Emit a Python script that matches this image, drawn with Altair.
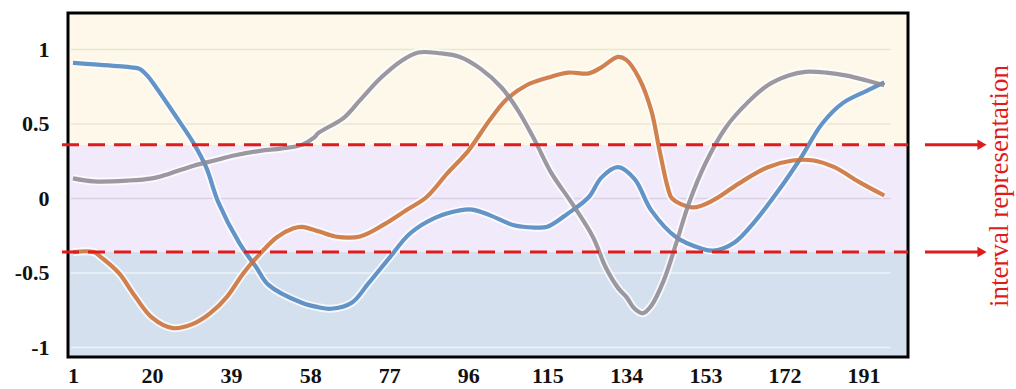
import altair as alt
import pandas as pd

# Three normalised signals sampled along the sequence index
blue_x = [1, 6, 15, 17, 19, 21, 26, 30, 33, 36, 41, 45, 48, 56, 60, 63, 68, 72, 77, 82,
          88, 94, 97, 101, 107, 112, 115, 120, 125, 128, 132, 136, 140, 146, 152, 155,
          160, 165, 171, 176, 181, 186, 192, 196]
blue_y = [0.91, 0.90, 0.88, 0.87, 0.82, 0.745, 0.54, 0.37, 0.21, -0.03, -0.30, -0.46,
          -0.58, -0.70, -0.73, -0.74, -0.70, -0.57, -0.40, -0.235, -0.13, -0.08, -0.075,
          -0.11, -0.18, -0.195, -0.19, -0.10, 0.01, 0.14, 0.21, 0.13, -0.08, -0.26,
          -0.335, -0.35, -0.295, -0.15, 0.07, 0.275, 0.50, 0.64, 0.725, 0.78]

orange_x = [1, 6, 8, 12, 16, 20, 25, 30, 34, 38, 42, 46, 50, 54, 56, 60, 64, 70, 76, 81,
            86, 91, 96, 101, 105, 110, 115, 120, 125, 128, 132, 134, 137, 140, 142, 144,
            145, 150, 155, 161, 168, 174, 179, 184, 190, 196]
orange_y = [-0.36, -0.36, -0.40, -0.50, -0.66, -0.80, -0.87, -0.84, -0.77, -0.66, -0.50,
            -0.37, -0.26, -0.20, -0.19, -0.22, -0.255, -0.255, -0.17, -0.08, 0.01, 0.17,
            0.32, 0.52, 0.66, 0.76, 0.81, 0.845, 0.84, 0.88, 0.95, 0.93, 0.81, 0.59, 0.32,
            0.07, 0.0, -0.06, -0.01, 0.10, 0.21, 0.255, 0.255, 0.21, 0.11, 0.02]

gray_x = [1, 6, 14, 20, 24, 30, 35, 40, 46, 51, 56, 59, 60, 66, 70, 75, 80, 84, 89, 94,
          99, 104, 108, 112, 116, 121, 126, 129, 132, 134, 136, 138, 140, 143, 146, 149,
          153, 158, 163, 168, 173, 177, 182, 187, 192, 196]
gray_y = [0.135, 0.115, 0.12, 0.135, 0.165, 0.22, 0.255, 0.29, 0.32, 0.335, 0.36, 0.41,
          0.44, 0.54, 0.66, 0.81, 0.925, 0.98, 0.975, 0.95, 0.87, 0.745, 0.59, 0.39, 0.17,
          -0.035, -0.26, -0.46, -0.60, -0.66, -0.74, -0.77, -0.72, -0.55, -0.30, -0.035,
          0.235, 0.48, 0.64, 0.76, 0.825, 0.85, 0.845, 0.825, 0.79, 0.76]

series_names = ["blue", "orange", "gray"]
series_colors = ["#4d85bf", "#cb6f36", "#8e8a94"]

# Interval thresholds and background zones
upper_limit = 0.36
lower_limit = -0.36
x_ticks = [1, 20, 39, 58, 77, 96, 115, 134, 153, 172, 191]
y_ticks = [-1, -0.5, 0, 0.5, 1]
grid_colors = ["#eef3f9", "#eef3f9", "#d9d1e3", "#ece5d3", "#ece5d3"]
x_domain = [-0.2, 201.7]
y_domain = [-1.064, 1.245]
zone_colors = ["#d4e0ee", "#f1eafa", "#fdf8ea"]

SERIF = "Times New Roman, Liberation Serif, serif"

rows = []
for name, xs, ys in [("blue", blue_x, blue_y), ("orange", orange_x, orange_y),
                     ("gray", gray_x, gray_y)]:
    for xv, yv in zip(xs, ys):
        rows.append({"series": name, "idx": xv, "value": yv})
lines_df = pd.DataFrame(rows)

zones_df = pd.DataFrame({
    "x0": [x_domain[0]] * 3,
    "x1": [x_domain[1]] * 3,
    "y0": [y_domain[0], lower_limit, upper_limit],
    "y1": [lower_limit, upper_limit, y_domain[1]],
    "fill": zone_colors,
})
grid_df = pd.DataFrame({"v": y_ticks, "c": grid_colors, "x0": 0.5, "x1": 197.5})
limits_df = pd.DataFrame({"v": [upper_limit, lower_limit]})

xs = alt.Scale(domain=x_domain, nice=False, zero=False)
ys = alt.Scale(domain=y_domain, nice=False, zero=False)

x_axis = alt.Axis(values=x_ticks, labelExpr="'' + datum.value", title=None,
                  domain=False, ticks=False, grid=False, labelFont=SERIF,
                  labelFontWeight="bold", labelFontSize=22, labelColor="#111",
                  labelPadding=8)
y_axis = alt.Axis(values=y_ticks, labelExpr="'' + datum.value", title=None,
                  domain=False, ticks=False, grid=False, labelFont=SERIF,
                  labelFontWeight="bold", labelFontSize=22, labelColor="#111",
                  labelPadding=19)

zones = alt.Chart(zones_df).mark_rect().encode(
    x=alt.X("x0:Q", scale=xs, axis=x_axis),
    x2="x1:Q",
    y=alt.Y("y0:Q", scale=ys, axis=y_axis),
    y2="y1:Q",
    fill=alt.Fill("fill:N", scale=None),
)

grid = alt.Chart(grid_df).mark_rule(strokeWidth=1.5).encode(
    x=alt.X("x0:Q", scale=xs),
    x2="x1:Q",
    y=alt.Y("v:Q", scale=ys),
    color=alt.Color("c:N", scale=None),
)

color_scale = alt.Scale(domain=series_names, range=series_colors)

halo = alt.Chart(lines_df).mark_line(
    interpolate="catmull-rom", strokeWidth=8, color="white", opacity=0.75
).encode(
    x=alt.X("idx:Q", scale=xs),
    y=alt.Y("value:Q", scale=ys),
    detail="series:N",
)

lines = alt.Chart(lines_df).mark_line(
    interpolate="catmull-rom", strokeWidth=4.2, opacity=0.88
).encode(
    x=alt.X("idx:Q", scale=xs),
    y=alt.Y("value:Q", scale=ys),
    color=alt.Color("series:N", scale=color_scale, legend=None),
)

dashed = alt.Chart(limits_df).mark_rule(
    color="#e01b1b", strokeWidth=3, strokeDash=[17, 9]
).encode(
    x=alt.value(-6), x2=alt.value(840), y=alt.Y("v:Q", scale=ys)
)

arrow_shaft = alt.Chart(limits_df).mark_rule(color="#e01b1b", strokeWidth=3).encode(
    x=alt.value(857), x2=alt.value(910), y=alt.Y("v:Q", scale=ys)
)

arrow_head = alt.Chart(limits_df).mark_point(
    shape="triangle-right", filled=True, color="#e01b1b", size=110, opacity=1
).encode(
    x=alt.value(914), y=alt.Y("v:Q", scale=ys)
)

# Black frame around the plotting area
frame = alt.Chart(pd.DataFrame({"k": [0]})).mark_rect(
    filled=False, stroke="#000000", strokeWidth=3
).encode(
    x=alt.value(0), x2=alt.value(840), y=alt.value(0), y2=alt.value(344)
)

label = alt.Chart(pd.DataFrame({"t": ["interval representation"]})).mark_text(
    angle=270, font=SERIF, fontSize=27, color="#e01b1b",
    align="center", baseline="middle"
).encode(
    x=alt.value(932), y=alt.value(173), text="t:N"
)

chart = alt.layer(
    zones, grid, halo, lines, frame, dashed, arrow_shaft, arrow_head, label
).properties(
    width=840,
    height=344,
    autosize="none",
    padding={"left": 68, "top": 13, "right": 108, "bottom": 32},
).configure_view(
    strokeWidth=0
).configure(background="white")

chart.save("out.html", embed_options={"renderer": "svg", "actions": False})
